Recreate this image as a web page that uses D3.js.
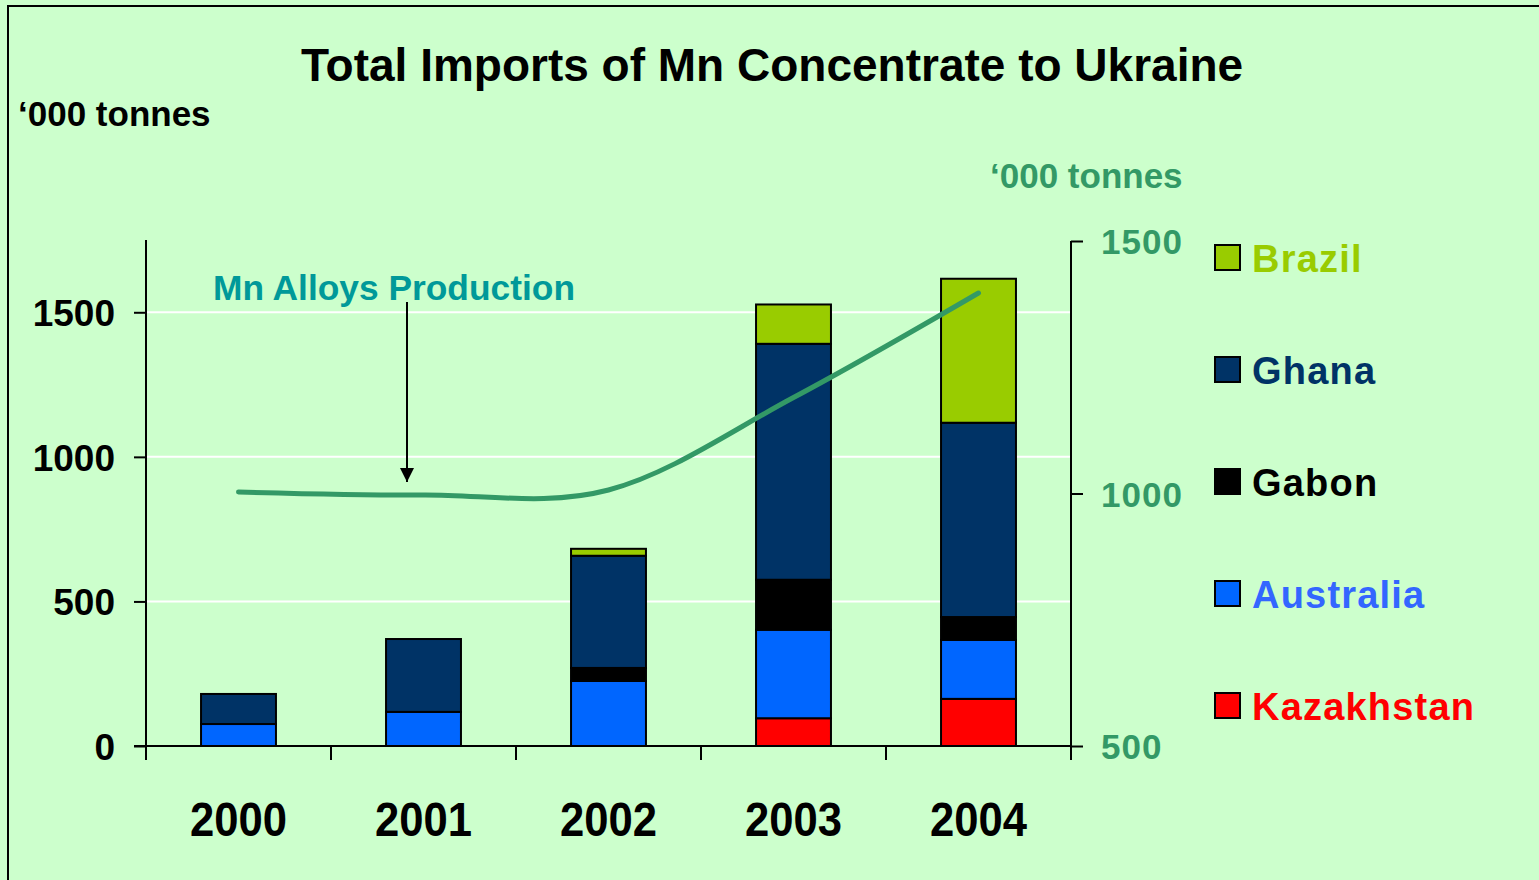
<!DOCTYPE html>
<html>
<head>
<meta charset="utf-8">
<script src="https://cdn.jsdelivr.net/npm/d3@7"></script>
<style>
  body { margin: 0; background: #ccffcc; }
  svg { display: block; font-family: "Liberation Sans", Arial, sans-serif; font-weight: bold; }
</style>
</head>
<body>
<svg id="chart" width="1539" height="880"></svg>
<script>
// data ('000 tonnes)
var years = ['2000', '2001', '2002', '2003', '2004'];
var countries = ['Kazakhstan', 'Australia', 'Gabon', 'Ghana', 'Brazil'];
var kazakhstan = [0, 0, 0, 96, 163];
var australia = [76, 118, 225, 306, 204];
var gabon = [0, 0, 45, 173, 79];
var ghana = [104, 252, 388, 816, 672];
var brazil = [0, 0, 24, 136, 498];
var alloys = [1003, 997, 1007, 1190, 1397];
var leftTicks = [0, 500, 1000, 1500];
var rightTicks = [500, 1000, 1500];

var fills = { Kazakhstan: '#ff0000', Australia: '#0066ff', Gabon: '#000000', Ghana: '#003366', Brazil: '#99cc00' };
var textColors = { Kazakhstan: '#ff0000', Australia: '#3366ff', Gabon: '#000000', Ghana: '#003366', Brazil: '#99cc00' };

var rows = years.map(function(y, i) {
  return { year: y, Kazakhstan: kazakhstan[i], Australia: australia[i], Gabon: gabon[i], Ghana: ghana[i], Brazil: brazil[i] };
});

var svg = d3.select('#chart');

// frame
svg.append('rect')
  .attr('x', 8).attr('y', 6).attr('width', 1560).attr('height', 900)
  .attr('fill', '#ccffcc').attr('stroke', '#000').attr('stroke-width', 2);

var x = d3.scaleBand().domain(years).range([146, 1071]).paddingInner(0.595).paddingOuter(0.2975);
var yL = d3.scaleLinear().domain([0, 1750]).range([746, 240]);
var yR = d3.scaleLinear().domain([500, 1500]).range([746, 241]);

// gridlines
svg.append('g').selectAll('line')
  .data(leftTicks.slice(1))
  .join('line')
  .attr('x1', 146).attr('x2', 1071)
  .attr('y1', d => yL(d)).attr('y2', d => yL(d))
  .attr('stroke', '#fff').attr('stroke-width', 2);

// stacked bars
var stack = d3.stack().keys(countries)(rows);
svg.append('g').selectAll('g')
  .data(stack)
  .join('g')
  .attr('fill', d => fills[d.key])
  .selectAll('rect')
  .data(d => d.filter(p => p[1] - p[0] > 0))
  .join('rect')
  .attr('x', d => x(d.data.year))
  .attr('width', x.bandwidth())
  .attr('y', d => yL(d[1]))
  .attr('height', d => yL(d[0]) - yL(d[1]))
  .attr('stroke', '#000').attr('stroke-width', 2);

// left axis
var axL = svg.append('g').attr('transform', 'translate(146,0)')
  .call(d3.axisLeft(yL).tickValues(leftTicks).tickFormat(d3.format('d'))
    .tickSize(12).tickPadding(19).tickSizeOuter(0));
axL.select('.domain').attr('d', 'M0,240V760').attr('stroke-width', 2);
axL.selectAll('.tick line').attr('stroke-width', 2);
axL.selectAll('.tick text')
  .attr('font-family', '"Liberation Sans", Arial, sans-serif')
  .attr('font-weight', 'bold').attr('font-size', 37).attr('fill', '#000')
  .attr('dy', '0.36em');

// right axis
var axR = svg.append('g').attr('transform', 'translate(1071,0)')
  .call(d3.axisRight(yR).tickValues(rightTicks).tickFormat(d3.format('d'))
    .tickSize(12).tickPadding(18).tickSizeOuter(0));
axR.select('.domain').attr('d', 'M0,241V760').attr('stroke-width', 2);
axR.selectAll('.tick line').attr('stroke-width', 2);
axR.selectAll('.tick text')
  .attr('font-family', '"Liberation Sans", Arial, sans-serif')
  .attr('font-weight', 'bold').attr('font-size', 35).attr('fill', '#339966')
  .attr('letter-spacing', 1).attr('dy', '0.36em');

// x axis
svg.append('line')
  .attr('x1', 134).attr('x2', 1071).attr('y1', 746).attr('y2', 746)
  .attr('stroke', '#000').attr('stroke-width', 2);
svg.append('g').selectAll('line')
  .data(d3.range(years.length + 1))
  .join('line')
  .attr('x1', i => x.range()[0] + i * x.step())
  .attr('x2', i => x.range()[0] + i * x.step())
  .attr('y1', 746).attr('y2', 760)
  .attr('stroke', '#000').attr('stroke-width', 2);
svg.append('g').selectAll('text')
  .data(years)
  .join('text')
  .attr('x', d => x(d) + x.bandwidth() / 2)
  .attr('y', 836)
  .attr('text-anchor', 'middle')
  .attr('font-size', 48)
  .attr('textLength', 97).attr('lengthAdjust', 'spacingAndGlyphs')
  .text(d => d);

// production line
var line = d3.line()
  .x((d, i) => x(years[i]) + x.bandwidth() / 2)
  .y(d => yR(d))
  .curve(d3.curveCardinal.tension(0));
svg.append('path')
  .attr('d', line(alloys))
  .attr('fill', 'none').attr('stroke', '#339966')
  .attr('stroke-width', 5).attr('stroke-linecap', 'round');

// annotation
svg.append('text')
  .attr('x', 213).attr('y', 300)
  .attr('font-size', 35).attr('fill', '#009999')
  .attr('textLength', 362).attr('lengthAdjust', 'spacingAndGlyphs')
  .text('Mn Alloys Production');
svg.append('defs').append('marker')
  .attr('id', 'arrow').attr('viewBox', '0 0 10 10')
  .attr('refX', 10).attr('refY', 5)
  .attr('markerWidth', 14).attr('markerHeight', 14).attr('markerUnits', 'userSpaceOnUse')
  .attr('orient', 'auto')
  .append('path').attr('d', 'M0,0L10,5L0,10Z').attr('fill', '#000');
svg.append('line')
  .attr('x1', 407).attr('y1', 302).attr('x2', 407).attr('y2', 482)
  .attr('stroke', '#000').attr('stroke-width', 2)
  .attr('marker-end', 'url(#arrow)');

// titles
svg.append('text')
  .attr('x', 772).attr('y', 81)
  .attr('text-anchor', 'middle').attr('font-size', 46)
  .text('Total Imports of Mn Concentrate to Ukraine');
svg.append('text')
  .attr('x', 18).attr('y', 126).attr('font-size', 35)
  .text('\u2018000 tonnes');
svg.append('text')
  .attr('x', 990).attr('y', 188).attr('font-size', 35).attr('fill', '#339966')
  .text('\u2018000 tonnes');

// legend
var legendOrder = countries.slice().reverse();
var lg = svg.append('g').selectAll('g')
  .data(legendOrder)
  .join('g')
  .attr('transform', (d, i) => 'translate(1215,' + (245 + i * 112) + ')');
lg.append('rect')
  .attr('width', 25).attr('height', 25)
  .attr('fill', d => fills[d]).attr('stroke', '#000').attr('stroke-width', 2);
lg.append('text')
  .attr('x', 37).attr('y', 27)
  .attr('font-size', 38).attr('letter-spacing', 1.2)
  .attr('fill', d => textColors[d])
  .text(d => d);
</script>
</body>
</html>
